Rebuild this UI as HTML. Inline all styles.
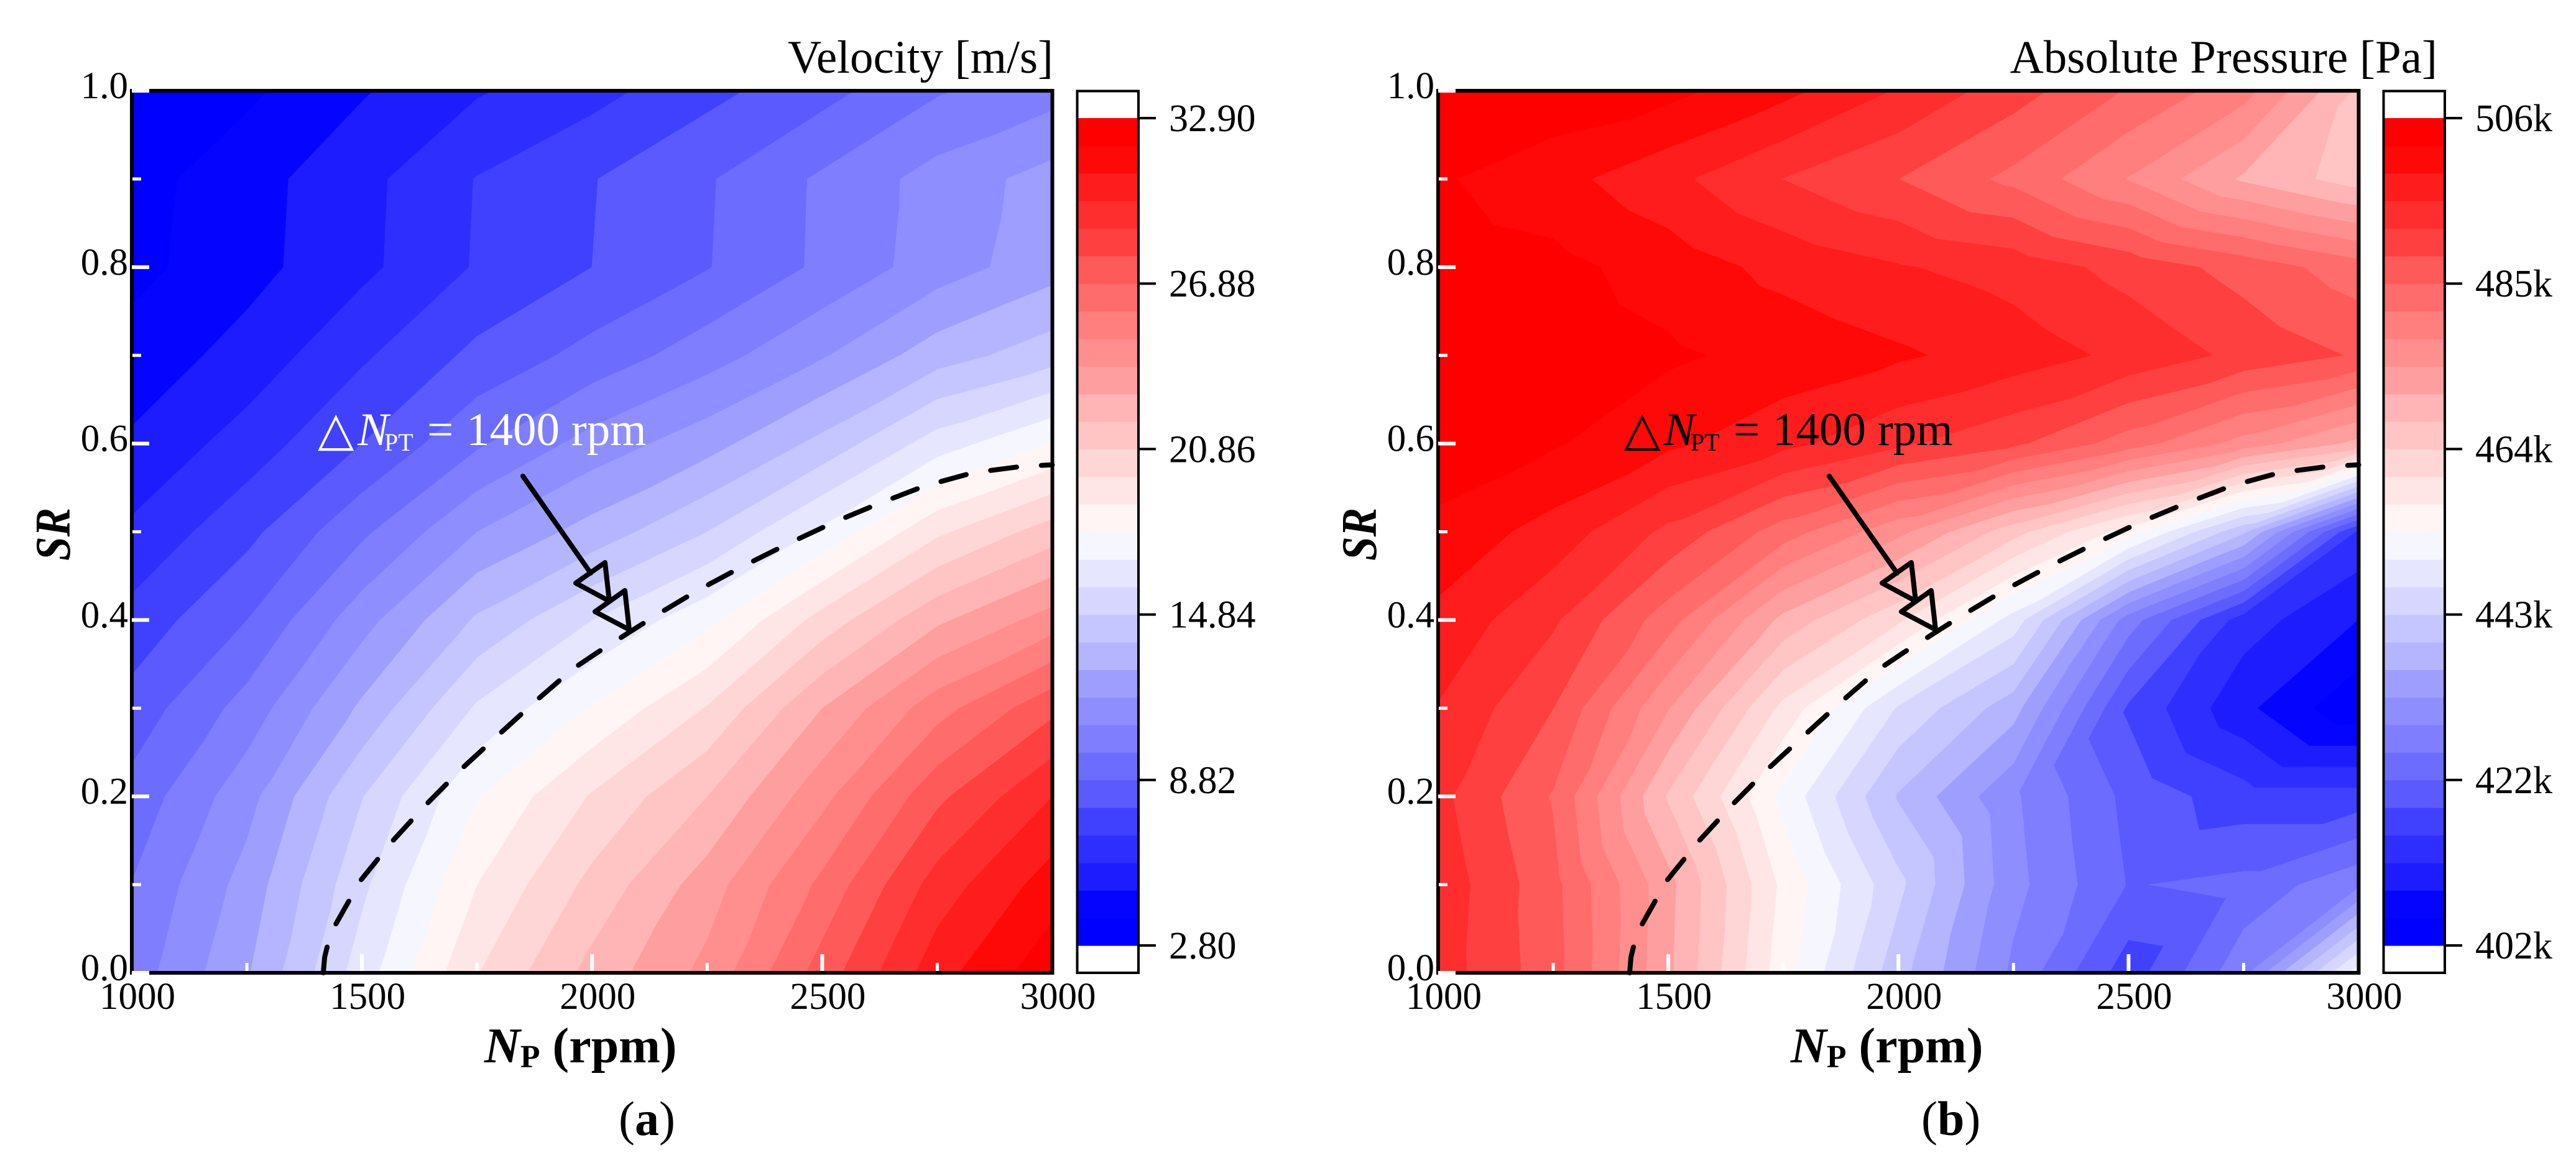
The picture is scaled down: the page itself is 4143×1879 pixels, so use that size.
<!DOCTYPE html>
<html lang="en">
<head>
<meta charset="utf-8">
<title>Velocity and absolute pressure contour maps</title>
<style>
html,body{margin:0;padding:0;background:#fff;}
svg{display:block;}
text{font-family:"Liberation Serif","Noto Serif CJK SC",serif;fill:#000;}
</style>
</head>
<body>
<svg id="figure" xmlns="http://www.w3.org/2000/svg" width="4143" height="1879" viewBox="0 0 4143 1879">
  <rect x="0" y="0" width="4143" height="1879" fill="#ffffff"/>

  <g id="panel-a">
    <g id="marks-a"></g>
    <text x="1694" y="117" font-size="75" text-anchor="end">Velocity [m/s]</text>
    <text x="779" y="1709" font-size="80" font-weight="bold"><tspan font-style="italic">N</tspan><tspan font-size="52" dy="8">P</tspan><tspan dy="-8"> (rpm)</tspan></text>
    <text transform="translate(112,902) rotate(-90) scale(.87,1)" font-size="80" font-weight="bold" font-style="italic">SR</text>
    <g>
      <text x="511" y="716" font-size="76" style="fill:#fff;font-family:'DejaVu Sans',sans-serif">△</text>
      <text x="575" y="716" font-size="75" font-style="italic" style="fill:#fff">N</text>
      <text x="618" y="725" font-size="40" style="fill:#fff">PT</text>
      <text x="687" y="716" font-size="75" style="fill:#fff">=</text>
      <text x="750" y="716" font-size="75" style="fill:#fff">1400 rpm</text>
      <g fill="none" stroke="#000" stroke-width="8" stroke-linecap="round" stroke-linejoin="round">
        <line x1="841" y1="766" x2="950" y2="922"/>
        <polygon points="973,905 926,938 980,967"/>
        <polygon points="1005,950 957,984 1012,1013"/>
      </g>
    </g>
    <text x="995" y="1826" font-size="78">(<tspan font-weight="bold">a</tspan>)</text>
  </g>

  <g id="panel-b" transform="translate(2101,0)">
    <g id="marks-b"></g>
    <text x="1819" y="117" font-size="75" text-anchor="end">Absolute Pressure [Pa]</text>
    <text x="779" y="1709" font-size="80" font-weight="bold"><tspan font-style="italic">N</tspan><tspan font-size="52" dy="8">P</tspan><tspan dy="-8"> (rpm)</tspan></text>
    <text transform="translate(112,902) rotate(-90) scale(.87,1)" font-size="80" font-weight="bold" font-style="italic">SR</text>
    <g>
      <text x="511" y="716" font-size="76" style="font-family:'DejaVu Sans',sans-serif">△</text>
      <text x="575" y="716" font-size="75" font-style="italic">N</text>
      <text x="618" y="725" font-size="40">PT</text>
      <text x="687" y="716" font-size="75">=</text>
      <text x="750" y="716" font-size="75">1400 rpm</text>
      <g fill="none" stroke="#000" stroke-width="8" stroke-linecap="round" stroke-linejoin="round">
        <line x1="841" y1="766" x2="950" y2="922"/>
        <polygon points="973,905 926,938 980,967"/>
        <polygon points="1005,950 957,984 1012,1013"/>
      </g>
    </g>
    <text x="989" y="1826" font-size="78">(<tspan font-weight="bold">b</tspan>)</text>
  </g>
</svg>

<script>
// Grid axes
var rpmValues = [1000, 1250, 1500, 1750, 2000, 2250, 2500, 2750, 3000];
var srValues = [0, 0.1, 0.2, 0.3, 0.4, 0.5, 0.6, 0.7, 0.8, 0.9, 1.0];

// Velocity [m/s], one row per SR value, one column per rpm value
var velocityField = [
  [10.29, 12.73, 16.35, 19.81, 22.21, 24.17, 27.33, 30.49, 32.60],
  [9.85, 12.22, 15.62, 18.85, 21.16, 23.37, 26.13, 29.34, 31.39],
  [9.17, 11.46, 14.80, 17.80, 19.96, 21.86, 24.57, 27.64, 29.89],
  [8.22, 10.22, 13.03, 15.99, 17.95, 19.93, 22.87, 25.47, 27.63],
  [7.16, 8.82, 11.43, 13.99, 15.84, 17.55, 20.26, 22.67, 24.32],
  [6.01, 7.52, 9.62, 11.83, 13.23, 14.84, 17.05, 19.66, 21.36],
  [4.96, 6.26, 7.82, 9.67, 11.23, 12.43, 14.14, 16.34, 17.88],
  [4.20, 5.18, 6.66, 8.07, 9.17, 10.38, 11.73, 13.37, 14.40],
  [3.50, 4.46, 5.56, 6.91, 7.82, 8.77, 10.02, 11.33, 12.43],
  [3.40, 4.41, 5.51, 6.86, 7.77, 8.72, 9.99, 11.23, 12.23],
  [3.10, 3.60, 4.71, 5.71, 6.46, 7.52, 8.47, 9.72, 10.43]
];

// Absolute pressure [kPa], one row per SR value, one column per rpm value
var pressureField = [
  [494.0, 486.6, 472.0, 455.4, 441.5, 429.0, 417.4, 428.7, 452.6],
  [494.4, 486.3, 472.4, 456.6, 444.5, 430.9, 422.6, 423.8, 429.0],
  [493.2, 484.9, 467.5, 453.0, 439.8, 430.3, 421.8, 417.3, 417.3],
  [495.4, 488.7, 475.0, 459.9, 446.7, 438.1, 418.8, 409.8, 402.7],
  [498.2, 492.7, 483.3, 470.3, 461.6, 449.1, 428.0, 414.1, 408.9],
  [501.5, 497.7, 491.3, 483.5, 475.8, 465.8, 455.7, 440.8, 415.2],
  [505.0, 502.9, 499.8, 496.6, 492.8, 489.4, 483.5, 476.9, 470.3],
  [505.7, 504.6, 503.1, 501.4, 499.6, 497.5, 494.7, 491.2, 488.3],
  [504.6, 503.6, 501.0, 498.0, 495.9, 494.2, 490.9, 487.3, 483.3],
  [503.0, 500.3, 496.6, 492.1, 488.7, 484.3, 478.1, 470.8, 466.1],
  [505.7, 505.0, 503.6, 500.1, 495.3, 490.2, 484.9, 479.7, 467.2]
];

// Delta N_PT = 1400 rpm curve
var curveRpm = [1416, 1419, 1428, 1443, 1496, 1564, 1638, 1714, 1793, 1873, 1957, 2011, 2138, 2231, 2328, 2424, 2522, 2623, 2723, 2828, 2932, 3000];
var curveSr = [0, 0.018, 0.037, 0.055, 0.104, 0.148, 0.190, 0.230, 0.268, 0.306, 0.344, 0.363, 0.405, 0.434, 0.461, 0.486, 0.510, 0.532, 0.552, 0.567, 0.574, 0.576];

// Axis ticks
var xMajorTicks = [1000, 1500, 2000, 2500, 3000];
var xMinorTicks = [1250, 1750, 2250, 2750];
var xTickLabels = ["1000", "1500", "2000", "2500", "3000"];
var yMajorTicks = [0, 0.2, 0.4, 0.6, 0.8, 1.0];
var yMinorTicks = [0.1, 0.3, 0.5, 0.7, 0.9];
var yTickLabels = ["0.0", "0.2", "0.4", "0.6", "0.8", "1.0"];

// Colour scales
var velocityRange = [2.80, 32.90];
var velocityCbarTicks = [2.80, 8.82, 14.84, 20.86, 26.88, 32.90];
var velocityCbarLabels = ["2.80", "8.82", "14.84", "20.86", "26.88", "32.90"];
var pressureRange = [402, 506];
var pressureCbarTicks = [402, 422.8, 443.6, 464.4, 485.2, 506];
var pressureCbarLabels = ["402k", "422k", "443k", "464k", "485k", "506k"];
var bandColors = ["#0000ff", "#0505ff", "#1c1cff", "#2e2eff", "#4040ff", "#5a5aff", "#6c6cff", "#7e7eff", "#8e8eff", "#9e9eff", "#b5b5ff", "#c5c5ff", "#d6d6ff", "#e6e6ff", "#f6f6ff", "#fff5f5", "#ffe6e6", "#ffd6d6", "#ffc5c5", "#ffb5b5", "#ff9e9e", "#ff8e8e", "#ff7e7e", "#ff6c6c", "#ff5a5a", "#ff4040", "#ff2e2e", "#ff1c1c", "#ff0808", "#ff0000"];

var SVGNS = "http://www.w3.org/2000/svg";
var PLOT = {left: 212, right: 1692.5, top: 146, bottom: 1565};
var CBAR = {left: 1732.5, right: 1831, top: 146.5, bottom: 1565, low: 1521, high: 190};

function xScale(rpm) {
  return PLOT.left + (rpm - 1000) / 2000 * (PLOT.right - PLOT.left);
}
function yScale(sr) {
  return PLOT.bottom - sr * (PLOT.bottom - PLOT.top);
}

function make(tag, parent, attrs) {
  var el = document.createElementNS(SVGNS, tag);
  for (var k in attrs) { el.setAttribute(k, attrs[k]); }
  parent.appendChild(el);
  return el;
}

// Keep the part of a triangle where the field value >= level
function clipAbove(poly, level) {
  var out = [];
  for (var i = 0; i < poly.length; i++) {
    var a = poly[i], b = poly[(i + 1) % poly.length];
    var ain = a[2] >= level, bin = b[2] >= level;
    if (ain) { out.push(a); }
    if (ain !== bin) {
      var t = (level - a[2]) / (b[2] - a[2]);
      out.push([a[0] + t * (b[0] - a[0]), a[1] + t * (b[1] - a[1]), level]);
    }
  }
  return out;
}

function fieldTriangles(field) {
  var tris = [];
  for (var j = 0; j < srValues.length - 1; j++) {
    for (var i = 0; i < rpmValues.length - 1; i++) {
      var p00 = [xScale(rpmValues[i]), yScale(srValues[j]), field[j][i]];
      var p10 = [xScale(rpmValues[i + 1]), yScale(srValues[j]), field[j][i + 1]];
      var p11 = [xScale(rpmValues[i + 1]), yScale(srValues[j + 1]), field[j + 1][i + 1]];
      var p01 = [xScale(rpmValues[i]), yScale(srValues[j + 1]), field[j + 1][i]];
      tris.push([p00, p10, p11], [p00, p11, p01]);
    }
  }
  return tris;
}

function drawContours(g, field, range) {
  var step = (range[1] - range[0]) / bandColors.length;
  var base = make("rect", g, {x: PLOT.left, y: PLOT.top, width: PLOT.right - PLOT.left, height: PLOT.bottom - PLOT.top, fill: bandColors[0]});
  
  
  var tris = fieldTriangles(field);
  for (var k = 1; k < bandColors.length; k++) {
    var level = range[0] + k * step;
    var d = "";
    for (var t = 0; t < tris.length; t++) {
      var poly = clipAbove(tris[t], level);
      if (poly.length < 3) { continue; }
      d += "M" + poly.map(function (p) { return p[0].toFixed(2) + " " + p[1].toFixed(2); }).join("L") + "Z";
    }
    if (!d) { continue; }
    var band = make("path", g, {d: d, fill: bandColors[k]});
    
    
  }
}

function drawAxes(g) {
  var frame = make("rect", g, {x: PLOT.left, y: PLOT.top, width: PLOT.right - PLOT.left, height: PLOT.bottom - PLOT.top, fill: "none", stroke: "#000", "stroke-width": 6});
  
  
  var i, line, label;
  for (i = 0; i < yMajorTicks.length; i++) {
    line = make("rect", g, {x: PLOT.left, y: yScale(yMajorTicks[i]) - 3, width: 28, height: 6, fill: "#fff"});
    
    
    label = make("text", g, {x: 206, y: yScale(yMajorTicks[i]) + 12, "font-size": 61, "text-anchor": "end"});
    label.textContent = yTickLabels[i];
    
    
  }
  for (i = 0; i < yMinorTicks.length; i++) {
    line = make("rect", g, {x: PLOT.left + 1, y: yScale(yMinorTicks[i]) - 2.5, width: 14, height: 5, fill: "#fff"});
    
    
  }
  for (i = 0; i < xMajorTicks.length; i++) {
    if (i > 0 && i < xMajorTicks.length - 1) {
      line = make("rect", g, {x: xScale(xMajorTicks[i]) - 3, y: PLOT.bottom - 30, width: 6, height: 27, fill: "#fff"});
      
      
    }
    label = make("text", g, {x: xScale(xMajorTicks[i]) + 9, y: 1623, "font-size": 61, "text-anchor": "middle"});
    label.textContent = xTickLabels[i];
    
    
  }
  for (i = 0; i < xMinorTicks.length; i++) {
    line = make("rect", g, {x: xScale(xMinorTicks[i]) - 2.5, y: PLOT.bottom - 16, width: 5, height: 13, fill: "#fff"});
    
    
  }
}

function drawColorbar(g, range, ticks, labels) {
  function cbY(v) {
    return CBAR.low - (v - range[0]) / (range[1] - range[0]) * (CBAR.low - CBAR.high);
  }
  var step = (range[1] - range[0]) / bandColors.length;
  for (var k = 0; k < bandColors.length; k++) {
    var y1 = cbY(range[0] + (k + 1) * step), y0 = cbY(range[0] + k * step);
    var cell = make("rect", g, {x: CBAR.left, y: y1, width: CBAR.right - CBAR.left, height: y0 - y1 + 0.6, fill: bandColors[k]});
    
    
  }
  var frame = make("rect", g, {x: CBAR.left, y: CBAR.top, width: CBAR.right - CBAR.left, height: CBAR.bottom - CBAR.top, fill: "none", stroke: "#000", "stroke-width": 4});
  
  
  for (var i = 0; i < ticks.length; i++) {
    var tick = make("line", g, {x1: CBAR.right, x2: 1859, y1: cbY(ticks[i]), y2: cbY(ticks[i]), stroke: "#000", "stroke-width": 4});
    
    
    var label = make("text", g, {x: 1880, y: cbY(ticks[i]) + 21, "font-size": 62});
    label.textContent = labels[i];
    
    
  }
}

function drawCurve(g) {
  var pts = curveRpm.map(function (r, i) { return xScale(r).toFixed(1) + "," + yScale(curveSr[i]).toFixed(1); }).join(" ");
  var curve = make("polyline", g, {points: pts, fill: "none", stroke: "#000", "stroke-width": 8, "stroke-linecap": "round", "stroke-linejoin": "round", "stroke-dasharray": "42 40"});
  
  
}

function drawPanel(id, field, range, ticks, labels) {
  var g = document.getElementById(id);
  drawContours(g, field, range);
  drawAxes(g);
  drawColorbar(g, range, ticks, labels);
  drawCurve(g);
}

drawPanel("marks-a", velocityField, velocityRange, velocityCbarTicks, velocityCbarLabels);
drawPanel("marks-b", pressureField, pressureRange, pressureCbarTicks, pressureCbarLabels);
</script>
</body>
</html>
